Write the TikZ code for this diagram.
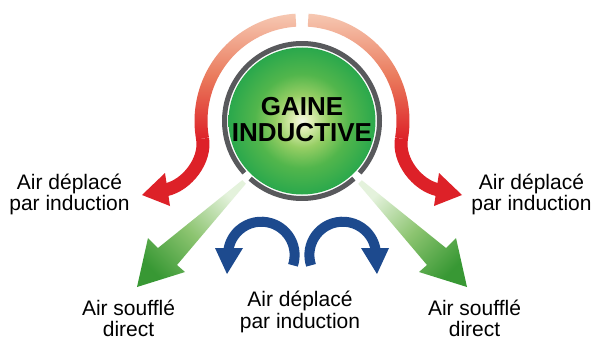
\documentclass[tikz,border=0pt]{standalone}
\usepackage{fontspec}
\setmainfont{Liberation Sans}[Ligatures=NoCommon]
\usetikzlibrary{calc}
\definecolor{bandpeach}{RGB}{246,200,178}
\definecolor{bandmid}{RGB}{234,122,92}
\definecolor{bandred}{RGB}{221,33,40}
\definecolor{ringgray}{RGB}{88,89,92}
\definecolor{flowblue}{RGB}{29,74,142}
\definecolor{greenlight}{RGB}{228,242,220}
\definecolor{greenmid}{RGB}{140,196,112}
\definecolor{greendark}{RGB}{56,152,52}
\definecolor{ductA}{RGB}{244,249,232}
\definecolor{ductB}{RGB}{222,238,180}
\definecolor{ductC}{RGB}{150,206,100}
\definecolor{ductD}{RGB}{82,182,76}
\definecolor{ductE}{RGB}{42,168,76}
\pgfdeclareradialshading{ductshade}{\pgfpoint{0bp}{0bp}}{color(0bp)=(ductA); color(3bp)=(ductB); color(9bp)=(ductC); color(16bp)=(ductD); color(25bp)=(ductE); color(50bp)=(ductE)}
\tikzset{
  lbl/.style={font=\fontsize{21}{22}\selectfont, anchor=base, inner sep=0pt, text=black},
  titletext/.style={font=\bfseries\fontsize{26}{27}\selectfont, anchor=base, inner sep=0pt, text=black},
  redband/.style={top color=bandpeach, bottom color=bandred, middle color=bandmid},
  redstroke/.style={draw=bandred, line width=13pt},
  redhead/.style={fill=bandred},
  greenarrow/.style={top color=greenlight, bottom color=greendark, middle color=greenmid},
  bluestroke/.style={draw=flowblue, line width=10pt},
  bluehead/.style={fill=flowblue},
  ring/.style={draw=ringgray, line width=5pt}
}
\begin{document}
\begin{tikzpicture}[x=1pt,y=1pt]
\useasboundingbox (0,0) rectangle (595,341);
\fill[white] (0,0) rectangle (595,341);
\coordinate (C) at (302,220);

% red induction arrows
\shade[redband] ($(C)+(93.5:107.5)$) arc[start angle=93.5,end angle=190,radius=107.5]
  -- ($(C)+(190:94.5)$) arc[start angle=190,end angle=93.5,radius=94.5] -- cycle;
\draw[redstroke] ($(C)+(190:101)$) .. controls (206.3,180.8) and (187,155.7) .. (166,151.2);
\fill[redhead] (142,146) -- (165,168) -- (170,135) -- cycle;

\shade[redband] ($(C)+(86.5:107.5)$) arc[start angle=86.5,end angle=-10,radius=107.5]
  -- ($(C)+(-10:94.5)$) arc[start angle=-10,end angle=86.5,radius=94.5] -- cycle;
\draw[redstroke] ($(C)+(-10:101)$) .. controls (397.7,180.8) and (417,155.7) .. (438,151.2);
\fill[redhead] (462,146) -- (439,168) -- (434,135) -- cycle;

% green direct arrows
\shade[greenarrow, shading angle=-45] (242.2,160.8) -- (158,93) -- (148,103) -- (137,54)
  -- (185,69) -- (177,76) -- (245.8,157.2) -- cycle;
\shade[greenarrow, shading angle=45] (361.8,160.8) -- (446,93) -- (456,103) -- (467,54)
  -- (419,69) -- (427,76) -- (358.2,157.2) -- cycle;

% blue arrows
\draw[bluestroke] ($(261.3,86)+(-18:33.3)$) arc[start angle=-18,end angle=175,radius=33.3];
\fill[bluehead] (215,93) -- (243,93) -- (227,67) -- cycle;
\draw[bluestroke] ($(342.7,86)+(198:33.3)$) arc[start angle=198,end angle=5,radius=33.3];
\fill[bluehead] (389,93) -- (361,93) -- (377,67) -- cycle;

% duct
\draw[ring] ($(C)+(-42:77.5)$) arc[start angle=-42,end angle=222,radius=77.5];
\draw[ring] ($(C)+(228:77.5)$) arc[start angle=228,end angle=312,radius=77.5];
\node[circle, shade, shading=ductshade, minimum size=147pt, inner sep=0pt] (duct) at (C) {};
\node[titletext] (gaine) at (302,226) {GAINE};
\node[titletext] (inductive) at (302,199.3) {INDUCTIVE};

% labels
\node[lbl] (ldl1) at (69.5,152) {Air déplacé};
\node[lbl] (ldl2) at (69.5,131) {par induction};
\node[lbl] (ldr1) at (531.5,152) {Air déplacé};
\node[lbl] (ldr2) at (531.5,131) {par induction};
\node[lbl] (ldm1) at (300,34.5) {Air déplacé};
\node[lbl] (ldm2) at (300,13) {par induction};
\node[lbl] (asl1) at (128.5,25.5) {Air soufflé};
\node[lbl] (asl2) at (128.5,4.5) {direct};
\node[lbl] (asr1) at (474.5,25.5) {Air soufflé};
\node[lbl] (asr2) at (474.5,4.5) {direct};
\end{tikzpicture}
\end{document}
